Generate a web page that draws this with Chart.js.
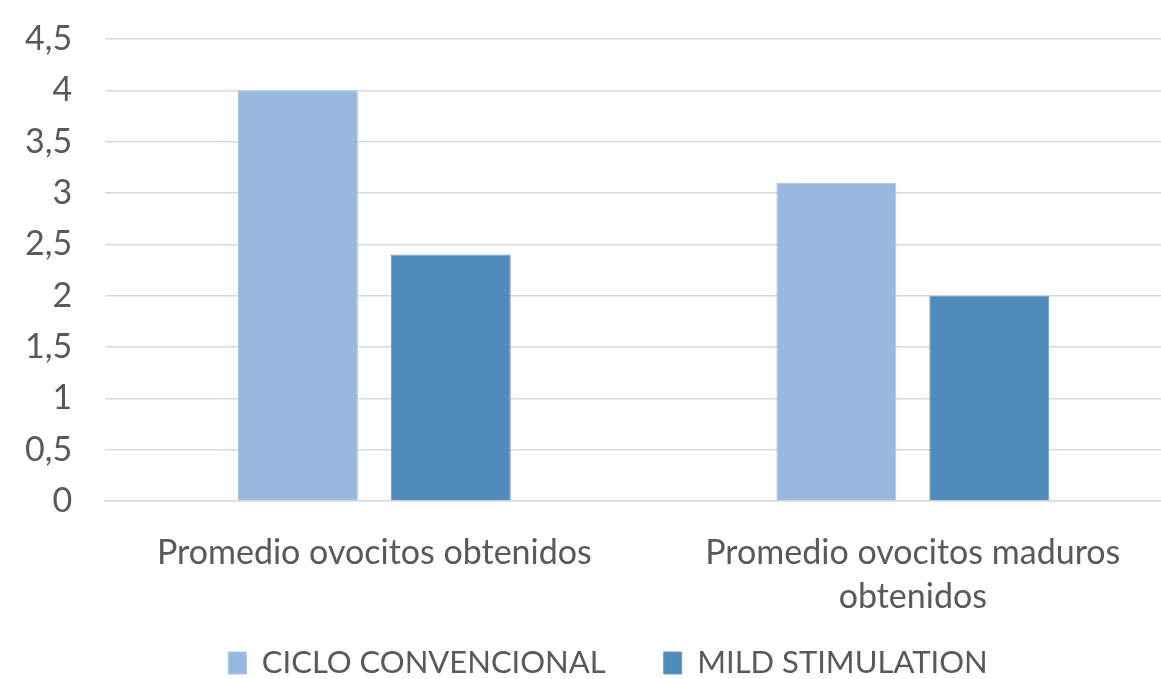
<!DOCTYPE html>
<html>
<head>
<meta charset="utf-8">
<script src="https://cdn.jsdelivr.net/npm/chart.js@4/dist/chart.umd.min.js"></script>
<style>
    html, body { margin: 0; padding: 0; background: #fff; overflow: hidden; }
    #wrap { width: 1182px; height: 679px; }
</style>
</head>
<body>
<div id="wrap"><canvas id="chart"></canvas></div>
<script>
const categories = [
    "Promedio ovocitos obtenidos",
    ["Promedio ovocitos maduros", "obtenidos"]
];
const seriesNames = ["CICLO CONVENCIONAL", "MILD STIMULATION"];
const cicloConvencional = [4, 3.1];
const mildStimulation = [2.4, 2];
const yMin = 0;
const yMax = 4.5;
const yStep = 0.5;

const textColor = "#595959";
const fontFamily = "Lato, 'Open Sans', sans-serif";

// labels.padding sets both the item gap and the gap above the row;
// keep the wide item gap but give the legend a short layout box
const legendFix = {
    id: "legendFix",
    beforeLayout(chart) {
        const legend = chart.legend;
        if (legend._fixed) return;
        const fit = legend.fit;
        legend.fit = function () {
            fit.call(this);
            this.height = 59;
        };
        legend._fixed = true;
    },
    afterLayout(chart) {
        const legend = chart.legend;
        legend.top -= 30.5;
        legend.left += 21;
        legend.right += 21;
    }
};

new Chart(
    document.getElementById("chart"),
    {
        type: "bar",
        plugins: [legendFix],
        data: {
            labels: categories,
            datasets: [
                {
                    label: seriesNames[0],
                    data: cicloConvencional,
                    backgroundColor: "#98b9df",
                    borderColor: "#a9c4e4",
                    borderWidth: 1
                },
                {
                    label: seriesNames[1],
                    data: mildStimulation,
                    backgroundColor: "#508bbd",
                    borderColor: "#6a9ac4",
                    borderWidth: 1
                }
            ]
        },
        options: {
            responsive: true,
            maintainAspectRatio: false,
            animation: false,
            categoryPercentage: 0.568,
            barPercentage: 0.784,
            layout: {
                padding: { top: 39, left: -8, right: 0, bottom: 0 }
            },
            plugins: {
                legend: {
                    position: "bottom",
                    labels: {
                        color: textColor,
                        font: { family: fontFamily, size: 31 },
                        boxWidth: 18,
                        boxHeight: 22,
                        padding: 58
                    }
                },
                tooltip: { enabled: false }
            },
            scales: {
                x: {
                    grid: { display: false, drawTicks: false },
                    border: { color: "#d9d9d9", width: 1.5 },
                    ticks: {
                        color: textColor,
                        font: { family: fontFamily, size: 34, lineHeight: 1.32 },
                        maxRotation: 0,
                        padding: 29.2
                    },
                    afterFit: scale => { scale.height = 119; }
                },
                y: {
                    min: yMin,
                    max: yMax,
                    border: { display: false },
                    grid: { color: "#d9d9d9", lineWidth: 1.5, drawTicks: false },
                    ticks: {
                        stepSize: yStep,
                        autoSkip: false,
                        color: textColor,
                        font: { family: fontFamily, size: 34 },
                        padding: 33,
                        callback: v => String(v).replace(".", ",")
                    },
                    afterFit: scale => { scale.paddingTop = 0; scale.paddingBottom = 0; }
                }
            }
        }
    }
);
</script>
</body>
</html>
